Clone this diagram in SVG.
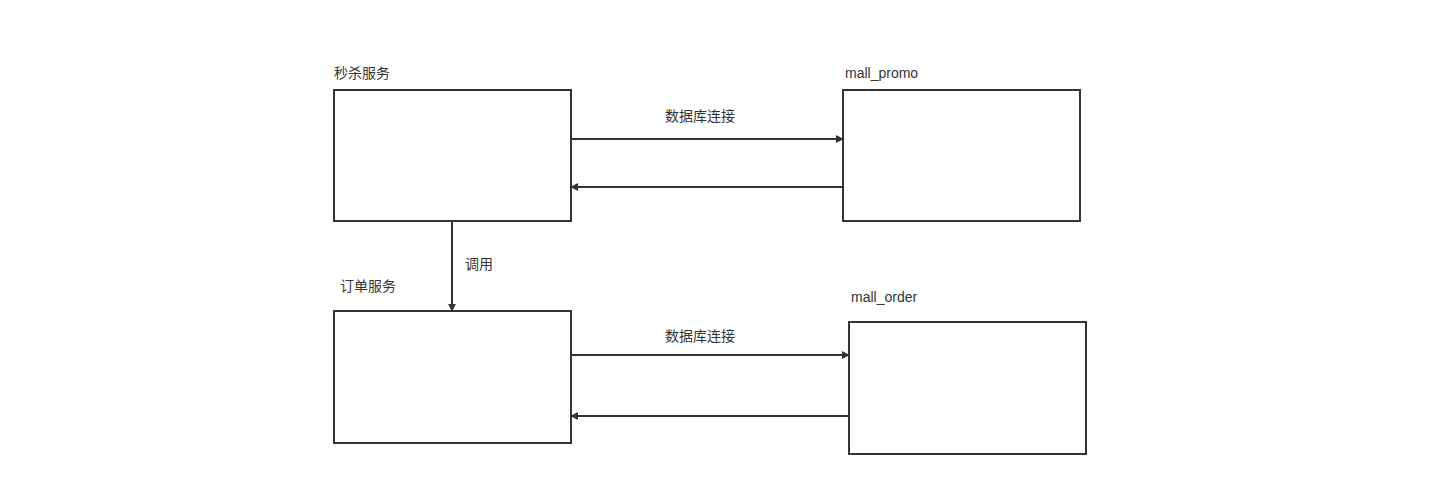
<svg xmlns="http://www.w3.org/2000/svg" width="1444" height="489" viewBox="0 0 1444 489">
<style>
.box{fill:#fff;stroke:#333;stroke-width:2}
.ln{fill:none;stroke:#333;stroke-width:2}
text{font-family:"Liberation Sans","Noto Sans CJK SC",sans-serif;font-size:14px;fill:#333}
</style>
<defs><marker id="a" viewBox="0 0 10 10" refX="9" refY="5" markerWidth="8" markerHeight="8" markerUnits="userSpaceOnUse" orient="auto"><path d="M0,0L10,5L0,10z" fill="#333"/></marker></defs>
<rect width="1444" height="489" fill="#fff"/>
<g id="n1"><rect class="box" x="334" y="90" width="237" height="131"/><text x="334" y="78">秒杀服务</text></g>
<g id="n2"><rect class="box" x="843" y="90" width="237" height="131"/><text x="845" y="78">mall_promo</text></g>
<g id="n3"><rect class="box" x="334" y="311" width="237" height="132"/><text x="340" y="291">订单服务</text></g>
<g id="n4"><rect class="box" x="849" y="322" width="237" height="132"/><text x="851" y="302">mall_order</text></g>
<g id="edges">
<path class="ln" d="M571,139H843" marker-end="url(#a)"/>
<path class="ln" d="M843,187H571" marker-end="url(#a)"/>
<path class="ln" d="M571,355H849" marker-end="url(#a)"/>
<path class="ln" d="M849,416H571" marker-end="url(#a)"/>
<path class="ln" d="M452,221V311" marker-end="url(#a)"/>
<text x="700" y="121" text-anchor="middle">数据库连接</text>
<text x="700" y="341" text-anchor="middle">数据库连接</text>
<text x="465" y="269">调用</text>
</g>
</svg>
